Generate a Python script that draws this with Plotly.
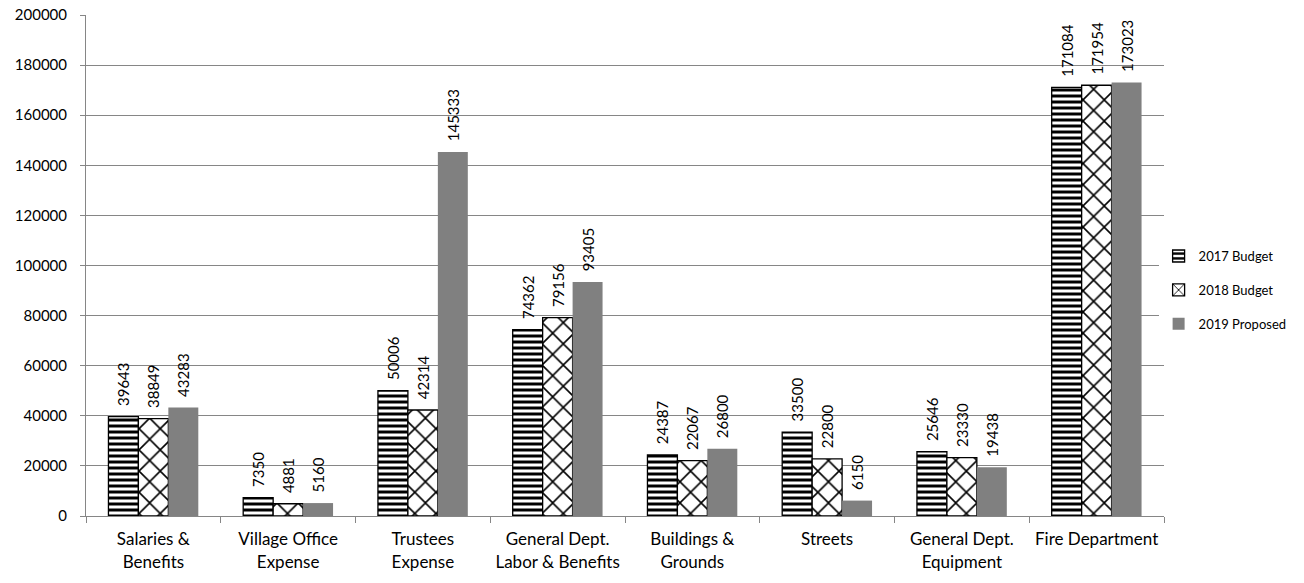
import plotly.graph_objects as go

categories = ["Salaries &<br>Benefits", "Village Office<br>Expense", "Trustees<br>Expense",
              "General Dept.<br>Labor & Benefits", "Buildings &<br>Grounds", "Streets",
              "General Dept.<br>Equipment", "Fire Department"]
budget_2017 = [39643, 7350, 50006, 74362, 24387, 33500, 25646, 171084]
budget_2018 = [38849, 4881, 42314, 79156, 22067, 22800, 23330, 171954]
proposed_2019 = [43283, 5160, 145333, 93405, 26800, 6150, 19438, 173023]
y_ticks = [0, 20000, 40000, 60000, 80000, 100000, 120000, 140000, 160000, 180000, 200000]

FONT = "Lato"
label_font = dict(family=FONT, size=15, color="black")

# value labels sit a little above each bar, rotated to read upward
common = dict(textposition="outside", textangle=-90, textfont=label_font,
              texttemplate="\u00a0\u00a0%{y}", constraintext="none", cliponaxis=False)

fig = go.Figure()
fig.add_trace(go.Bar(
    name="2017 Budget", x=categories, y=budget_2017, legendgroup="a",
    marker=dict(color="white", line=dict(color="black", width=1.3),
                pattern=dict(shape="-", fgcolor="black", bgcolor="white", fgopacity=1,
                             size=6, solidity=0.5)),
    **common,
))
fig.add_trace(go.Bar(
    name="2018 Budget", x=categories, y=budget_2018, legendgroup="b",
    marker=dict(color="white", line=dict(color="black", width=1.3),
                pattern=dict(shape="x", fgcolor="black", bgcolor="white", fgopacity=1,
                             size=15, solidity=0.2)),
    **common,
))
fig.add_trace(go.Bar(
    name="2019 Proposed", x=categories, y=proposed_2019, legendgroup="c",
    marker=dict(color="#808080", line=dict(width=0)),
    **common,
))

fig.update_layout(
    width=1304, height=583,
    margin=dict(l=86, r=138, t=15, b=67),
    barmode="group", bargap=0.333, bargroupgap=0,
    plot_bgcolor="white", paper_bgcolor="white",
    font=dict(family=FONT, size=14, color="black"),
    legend=dict(x=0.995, y=0.451, yanchor="middle", xanchor="left",
                font=dict(family=FONT, size=13), tracegroupgap=14, itemwidth=30),
)
fig.update_xaxes(
    showline=True, linecolor="#868686", linewidth=1,
    ticks="outside", tickcolor="#868686", ticklen=6, tickson="boundaries",
    tickfont=dict(family=FONT, size=17), ticklabelstandoff=8, automargin=False,
)
fig.update_yaxes(
    range=[0, 200000], tickvals=y_ticks, tickformat="d",
    showline=True, linecolor="#868686", linewidth=1,
    ticks="outside", tickcolor="#868686", ticklen=5,
    showgrid=True, gridcolor="#868686", gridwidth=1, ticklabelstandoff=10,
    tickfont=dict(family=FONT, size=15), zeroline=False, automargin=False,
)

fig.write_html("out.html")
